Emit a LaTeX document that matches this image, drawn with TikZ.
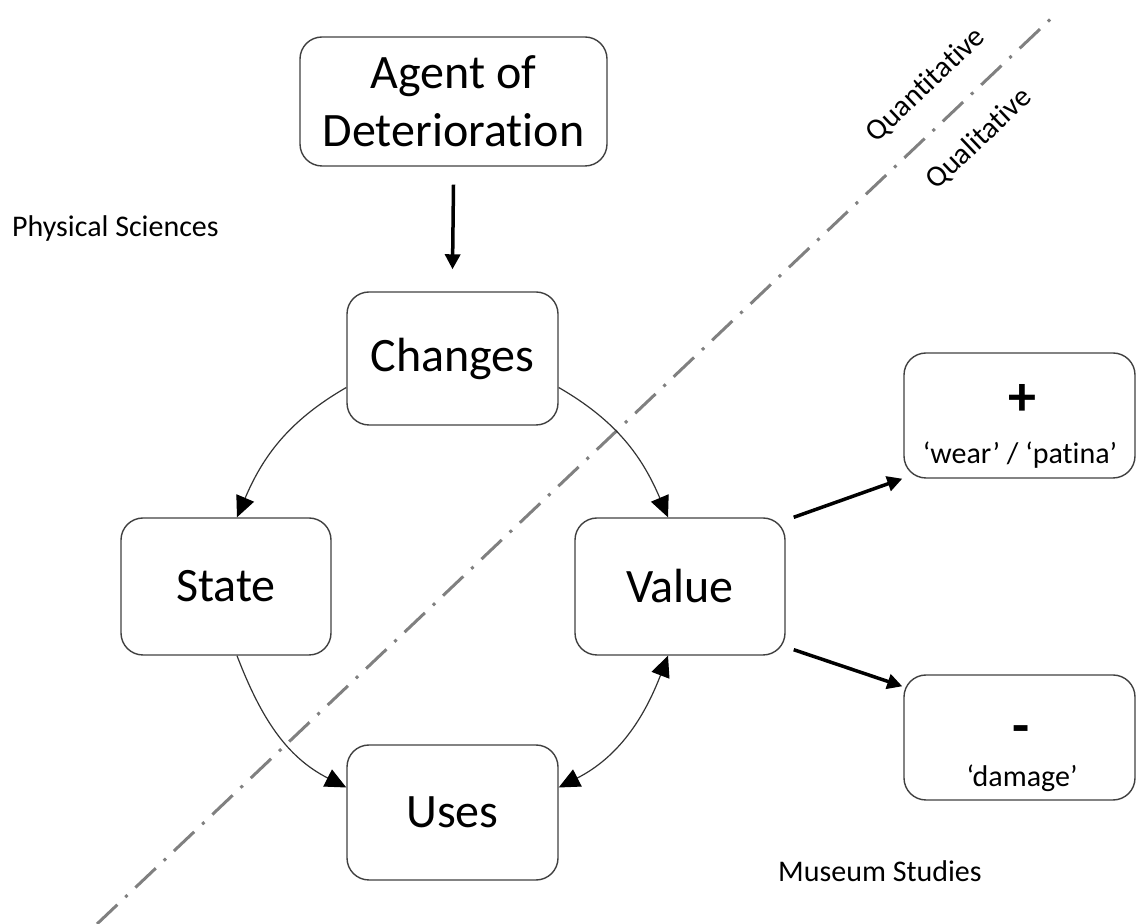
\documentclass[tikz,border=0pt]{standalone}
\usepackage{fontspec}
\setmainfont{Carlito}[RawFeature={-liga;-clig;-calt;-dlig}]
\usetikzlibrary{arrows.meta}
\begin{document}
\begin{tikzpicture}[x=1pt,y=1pt,
 box/.style={draw=black!75, line width=1.4pt, rounded corners=22pt, inner sep=0pt, align=center, font=\fontsize{48}{58}\selectfont},
 curv/.style={draw=black!80, line width=1.2pt, -{Triangle[length=21pt,width=19pt,color=black]}},
 curvboth/.style={draw=black!80, line width=1.2pt, {Triangle[length=21pt,width=19pt,color=black]}-{Triangle[length=21pt,width=19pt,color=black]}},
 bigarrow/.style={line width=3.5pt, -{Triangle[length=15pt,width=15pt]}},
 small/.style={font=\fontsize{30}{36}\selectfont, inner sep=0pt},
 sep/.style={draw=black!50, line width=3pt, dash pattern=on 28pt off 11pt on 3pt off 11pt}
]
\useasboundingbox (0,0) rectangle (1136,924);

% separator line
\coordinate (d1) at (97,0);
\coordinate (d2) at (1058,912);
\draw[sep] (d1) -- (d2);

% boxes
\node[box, minimum width=307pt, minimum height=129pt] (agent) at (453.5,822.5) {Agent of\\Deterioration};
\node[box, minimum width=211pt, minimum height=133pt] (changes) at (452.5,565.5) {Changes};
\node[box, minimum width=210pt, minimum height=137pt] (state) at (226,337.5) {State};
\node[box, minimum width=210pt, minimum height=137pt] (value) at (680,337.5) {Value};
\node[box, minimum width=211pt, minimum height=135pt] (uses) at (452.5,111.5) {Uses};
\node[box, minimum width=231pt, minimum height=125pt] (plus) at (1019.5,508.5) {};
\node[box, minimum width=231pt, minimum height=125pt] (minus) at (1019.5,186.5) {};

% box contents
\node[inner sep=0pt, font=\fontsize{56}{60}\selectfont\bfseries] (plussign) at (1022,524) {+};
\node[small, anchor=base] (wear) at (1020,460) {‘wear’ / ‘patina’};
\node[inner sep=0pt, font=\fontsize{56}{60}\selectfont\bfseries] (minussign) at (1021,189) {-};
\node[small, anchor=base] (damage) at (1022,137) {‘damage’};

% labels
\node[small, anchor=base west] (phys) at (12,687) {Physical Sciences};
\node[small, anchor=base west] (museum) at (778,42) {Museum Studies};
\node[small, rotate=43.5] (quant) at (926,839) {Quantitative};
\node[small, rotate=43.5] (qual) at (979,785) {Qualitative};

% arrows
\draw[bigarrow] ([yshift=-18pt]agent.south) -- ([yshift=22pt]changes.north);
\draw[curv] ([yshift=-29pt]changes.west) to[out=210, in=67] ([xshift=11pt]state.north);
\draw[curv] ([yshift=-29pt]changes.east) to[out=-30, in=113] ([xshift=-12pt]value.north);
\draw[curv] ([xshift=11pt]state.south) to[out=-69, in=153] ([yshift=25pt]uses.west);
\draw[curvboth] ([yshift=25pt]uses.east) to[out=27, in=-111] ([xshift=-12pt]value.south);
\draw[bigarrow] ([xshift=8pt]value.north east) -- ([xshift=-1pt]plus.south west);
\draw[bigarrow] ([xshift=8pt,yshift=6pt]value.south east) -- ([xshift=-1pt,yshift=-12pt]minus.north west);
\end{tikzpicture}
\end{document}
